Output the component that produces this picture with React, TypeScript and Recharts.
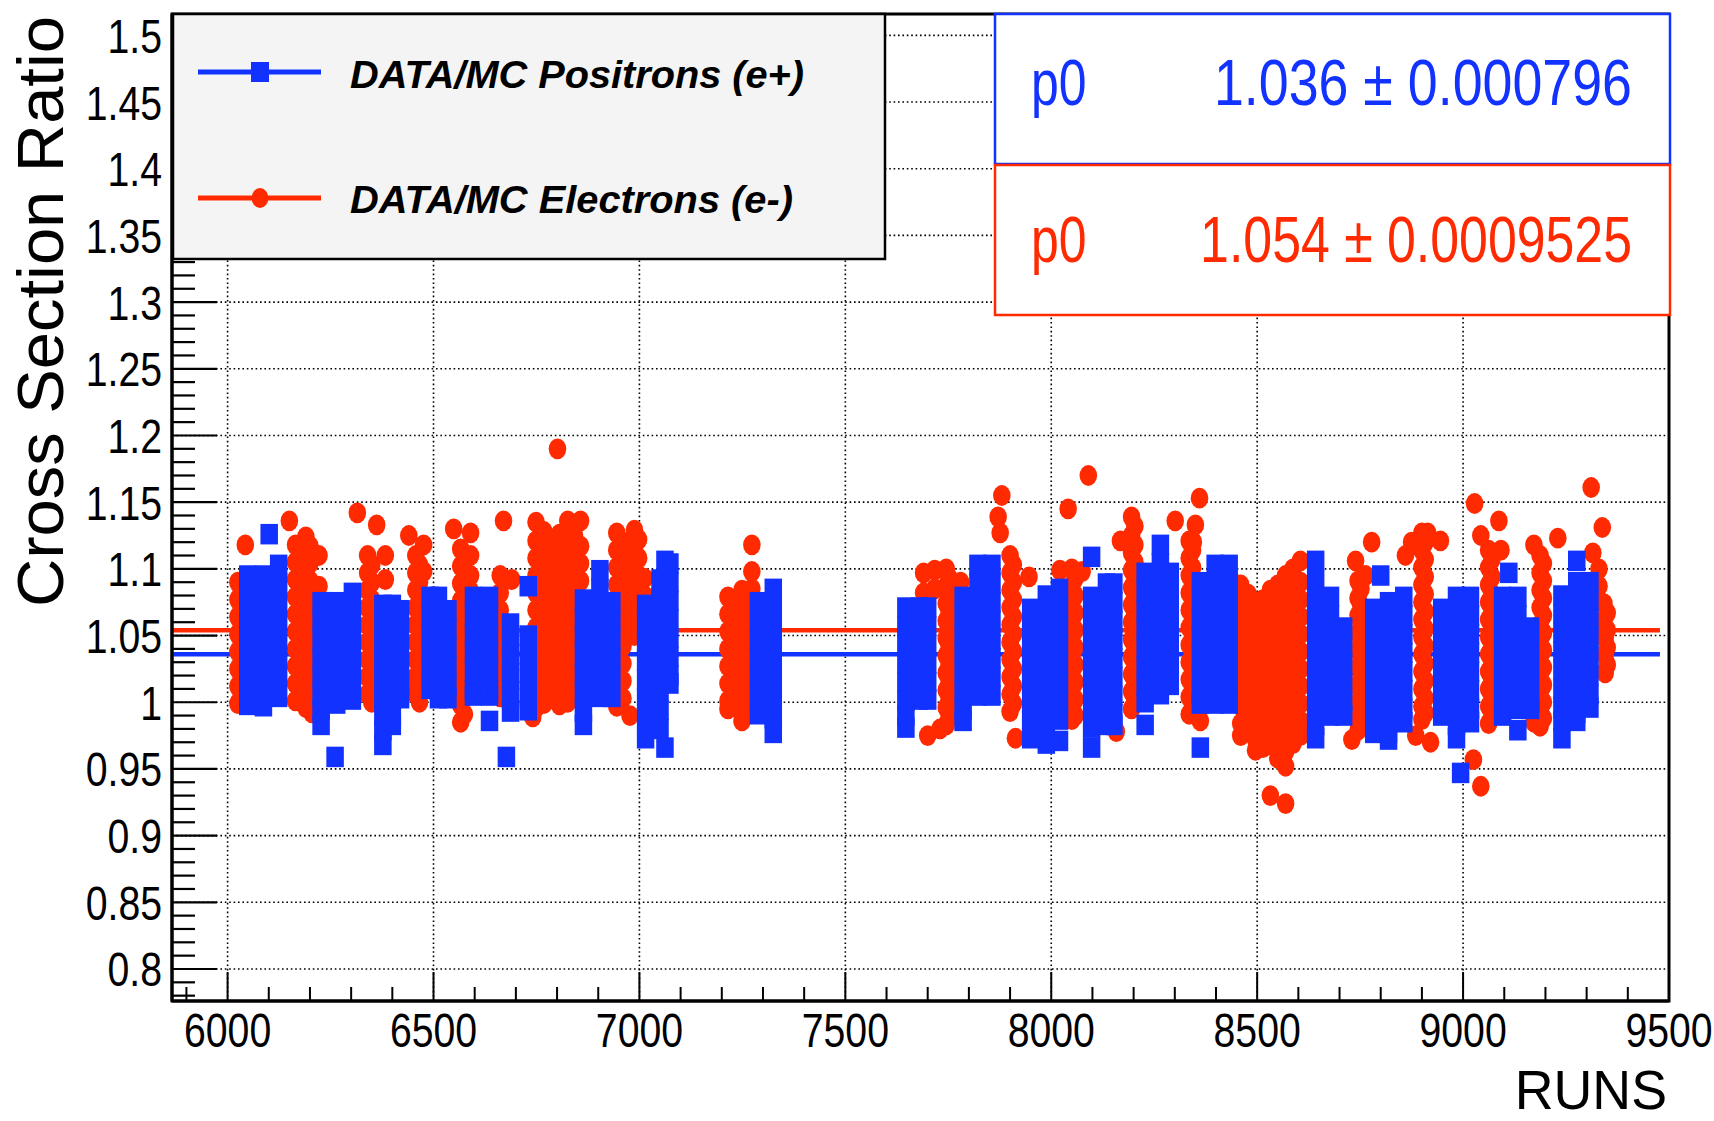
import { ScatterChart, Scatter, XAxis, YAxis, CartesianGrid, ReferenceLine } from 'recharts';

const BLUE = '#1232ff';
const RED = '#ff2a00';
const FONT = '"Liberation Sans", Arial, Helvetica, sans-serif';

// axis ticks
const xGridRuns = [6000, 6500, 7000, 7500, 8000, 8500, 9000];
const xTicks = Array.from({ length: 37 }, (_, i) => 5900 + i * 100);
const yGridRatios = [0.8, 0.85, 0.9, 0.95, 1, 1.05, 1.1, 1.15, 1.2, 1.25, 1.3, 1.35, 1.4, 1.45, 1.5];
const yTicks = Array.from({ length: 74 }, (_, i) => +(0.78 + i * 0.01).toFixed(2));

// fit results (p0)
const fitPositrons = 1.036;
const fitElectrons = 1.054;
const fitRange = [5868, 9478];

// DATA/MC positrons (e+): [run, ratios measured at that run]
const positronsA: [number, number[]][] = [
  [6049, [1.095, 1.081, 1.067, 1.053, 1.039, 1.025, 1.011, 0.998]],
  [6087, [1.095, 1.081, 1.067, 1.053, 1.039, 1.025, 1.011, 0.997]],
  [6101, [1.126]],
  [6124, [1.103, 1.089, 1.075, 1.061, 1.047, 1.033, 1.019, 1.004]],
  [6227, [1.075, 1.061, 1.047, 1.033, 1.019, 1.005, 0.994, 0.983]],
  [6261, [0.959]],
  [6265, [1.075, 1.061, 1.047, 1.033, 1.019, 1.005, 0.999]],
  [6303, [1.082, 1.068, 1.054, 1.04, 1.026, 1.012, 1.002]],
  [6377, [1.073, 1.059, 1.045, 1.031, 1.017, 1.003, 0.99, 0.979, 0.968]],
  [6400, [1.073, 1.059, 1.045, 1.031, 1.017, 1.003, 0.99, 0.983]],
  [6420, [1.069, 1.055, 1.041, 1.027, 1.013, 1.003]],
  [6492, [1.079, 1.065, 1.051, 1.037, 1.023, 1.01]],
  [6512, [1.079, 1.065, 1.051, 1.037, 1.023, 1.009, 1.003]],
  [6535, [1.069, 1.055, 1.041, 1.027, 1.013, 1.003]],
  [6597, [1.079, 1.065, 1.051, 1.037, 1.023, 1.009, 1.005]],
  [6636, [1.079, 1.065, 1.051, 1.037, 1.023, 1.009, 1.005, 0.986]],
  [6677, [0.959]],
  [6687, [1.059, 1.045, 1.031, 1.017, 1.003, 0.993]],
  [6730, [1.087, 1.05, 1.036, 1.022, 1.008, 0.994]],
  [6864, [1.077, 1.063, 1.049, 1.035, 1.021, 1.007, 0.993, 0.983]],
  [6904, [1.099, 1.085, 1.071, 1.057, 1.043, 1.029, 1.015, 1.004]],
  [6933, [1.075, 1.061, 1.047, 1.033, 1.019, 1.004]],
  [7015, [1.073, 1.059, 1.045, 1.031, 1.017, 1.003, 0.988, 0.973]],
  [7050, [1.092, 1.078, 1.064, 1.05, 1.036, 1.022, 1.008, 0.994, 0.98]],
  [7062, [1.106, 0.966]],
  [7074, [1.104, 1.09, 1.076, 1.062, 1.048, 1.034, 1.02, 1.014]],
  [7289, [1.075, 1.061, 1.047, 1.033, 1.019, 1.005, 0.991]],
  [7325, [1.085, 1.071, 1.057, 1.043, 1.029, 1.015, 1.001, 0.988, 0.977]],
];

const positronsB: [number, number[]][] = [
  [7647, [1.071, 1.057, 1.043, 1.029, 1.015, 1.001, 0.99, 0.981]],
  [7680, [1.071, 1.057, 1.043, 1.029, 1.015, 1.002]],
  [7700, [1.071, 1.057, 1.043, 1.029, 1.015, 1.002]],
  [7786, [1.079, 1.065, 1.051, 1.037, 1.023, 1.009, 0.995, 0.986]],
  [7822, [1.103, 1.089, 1.075, 1.061, 1.047, 1.033, 1.019, 1.005]],
  [7856, [1.103, 1.089, 1.075, 1.061, 1.047, 1.033, 1.019, 1.005]],
  [7950, [1.07, 1.056, 1.042, 1.028, 1.014, 1.0, 0.986, 0.973]],
  [7988, [1.08, 1.066, 1.052, 1.038, 1.024, 1.01, 0.996, 0.982, 0.969]],
  [8020, [1.085, 1.071, 1.057, 1.043, 1.029, 1.015, 1.001, 0.987, 0.971]],
  [8098, [1.109, 1.079, 1.065, 1.051, 1.037, 1.023, 1.009, 0.995, 0.981, 0.966]],
  [8134, [1.089, 1.075, 1.061, 1.047, 1.033, 1.019, 1.005, 0.991, 0.983]],
  [8152, [1.089, 1.075, 1.061, 1.047, 1.033, 1.019, 1.005, 0.991, 0.983]],
  [8228, [1.097, 1.083, 1.069, 1.055, 1.041, 1.027, 1.013, 1.0, 0.983]],
  [8265, [1.118, 1.104, 1.09, 1.076, 1.062, 1.048, 1.034, 1.02, 1.006]],
  [8289, [1.097, 1.083, 1.069, 1.055, 1.041, 1.027, 1.013]],
  [8362, [1.09, 1.076, 1.062, 1.048, 1.034, 1.02, 1.006, 0.999, 0.966]],
  [8398, [1.103, 1.089, 1.075, 1.061, 1.047, 1.033, 1.019, 1.005, 0.999]],
  [8432, [1.103, 1.089, 1.075, 1.061, 1.047, 1.033, 1.019, 1.005, 0.999]],
];

const positronsC: [number, number[]][] = [
  [8642, [1.106, 1.091, 1.077, 1.063, 1.049, 1.035, 1.021, 1.007, 0.993, 0.983, 0.973]],
  [8678, [1.079, 1.065, 1.051, 1.037, 1.023, 1.009, 0.995, 0.99]],
  [8710, [1.056, 1.042, 1.028, 1.014, 1.0, 0.99]],
  [8783, [1.07, 1.056, 1.042, 1.028, 1.014, 1.0, 0.986, 0.977]],
  [8800, [1.095]],
  [8819, [1.075, 1.061, 1.047, 1.033, 1.019, 1.005, 0.991, 0.977, 0.972]],
  [8856, [1.079, 1.065, 1.051, 1.037, 1.023, 1.009, 0.995, 0.985]],
  [8948, [1.07, 1.056, 1.042, 1.028, 1.014, 1.0, 0.99]],
  [8984, [1.079, 1.065, 1.051, 1.037, 1.023, 1.009, 0.995, 0.983, 0.973]],
  [8994, [0.947]],
  [9018, [1.079, 1.065, 1.051, 1.037, 1.023, 1.009, 0.995, 0.985]],
  [9096, [1.079, 1.065, 1.051, 1.037, 1.023, 1.009, 0.995, 0.99]],
  [9111, [1.097]],
  [9133, [1.079, 1.065, 1.051, 1.037, 1.023, 1.009, 0.995, 0.979]],
  [9164, [1.056, 1.042, 1.028, 1.014, 1.0, 0.995]],
  [9240, [1.08, 1.066, 1.052, 1.038, 1.024, 1.01, 0.996, 0.986, 0.973]],
  [9276, [1.106, 1.09, 1.076, 1.062, 1.048, 1.034, 1.02, 1.006, 0.992, 0.986]],
  [9308, [1.09, 1.076, 1.062, 1.048, 1.034, 1.02, 1.006, 0.996]],
];

// DATA/MC electrons (e-)
const electronsA: [number, number[]][] = [
  [6025, [1.09, 1.077, 1.064, 1.051, 1.038, 1.025, 1.012, 0.999]],
  [6033, [1.083, 1.07, 1.057, 1.044, 1.031, 1.018, 1.005]],
  [6043, [1.118]],
  [6150, [1.136]],
  [6165, [1.118, 1.105, 1.092, 1.079, 1.066, 1.053, 1.04, 1.027, 1.014, 1.001]],
  [6176, [1.111, 1.098, 1.085, 1.072, 1.059, 1.046, 1.033, 1.02, 1.007]],
  [6190, [1.124, 1.111, 1.098, 1.085, 1.072, 1.059, 1.046, 1.033, 1.02, 1.007, 0.996]],
  [6200, [1.117, 1.104, 1.091, 1.078, 1.065, 1.052, 1.039, 1.026, 1.013, 1.0]],
  [6205, [0.992]],
  [6222, [1.11, 1.087]],
  [6315, [1.142]],
  [6340, [1.11, 1.097, 1.084, 1.071, 1.058, 1.045, 1.032, 1.019, 1.006]],
  [6350, [1.103, 1.09, 1.077, 1.064, 1.051, 1.038, 1.025, 1.012, 1.0]],
  [6362, [1.133]],
  [6383, [1.11, 1.092]],
  [6440, [1.125]],
  [6450, [1.012]],
  [6457, [1.11, 1.097, 1.084, 1.071, 1.058, 1.045, 1.032, 1.019, 1.006]],
  [6466, [1.103, 1.09, 1.077, 1.064, 1.051, 1.038, 1.025, 1.012, 1.0]],
  [6476, [1.118, 1.098]],
  [6549, [1.13]],
  [6566, [1.115, 1.102, 1.089, 1.076, 1.063, 1.05, 1.037, 1.024, 1.011, 0.998, 0.985]],
  [6575, [1.108, 1.095, 1.082, 1.069, 1.056, 1.043, 1.03, 1.017, 1.004, 0.991]],
  [6590, [1.127, 1.11, 1.095, 1.083]],
  [6662, [1.095, 1.082, 1.069, 1.056, 1.043, 1.03, 1.017, 1.004]],
  [6670, [1.136]],
  [6690, [1.092]],
  [6741, [0.989]],
  [6749, [1.135, 1.121, 1.108, 1.095, 1.082, 1.069, 1.056, 1.043, 1.03, 1.017, 1.004, 0.996]],
  [6768, [1.128, 1.114, 1.101, 1.088, 1.075, 1.062, 1.049, 1.036, 1.023, 1.01, 0.999]],
  [6787, [1.12, 1.107, 1.094, 1.081, 1.068, 1.055, 1.042, 1.029, 1.016, 1.003]],
  [6801, [1.19]],
  [6806, [1.126, 1.113, 1.1, 1.087, 1.074, 1.061, 1.048, 1.035, 1.022, 1.009, 0.998]],
  [6826, [1.136, 1.118, 1.105, 1.092, 1.079, 1.066, 1.053, 1.04, 1.027, 1.014, 1.0]],
  [6842, [1.125, 1.111, 1.098, 1.085, 1.072, 1.059, 1.046, 1.033, 1.02, 1.007]],
  [6857, [1.136, 1.117, 1.104, 1.091, 1.078, 1.065, 1.052, 1.039, 1.026, 1.013]],
  [6945, [1.127, 1.114, 1.101, 1.088, 1.075, 1.062, 1.049, 1.036, 1.023, 1.01, 0.997]],
  [6960, [1.12, 1.107, 1.094, 1.081, 1.068, 1.055, 1.042, 1.029, 1.016, 1.003]],
  [6977, [0.99]],
  [6988, [1.129, 1.115, 1.102, 1.089, 1.076, 1.063, 1.05]],
  [6998, [1.122, 1.108, 1.095, 1.082, 1.069, 1.056]],
  [7012, [1.093, 1.08]],
  [7215, [1.079, 1.066, 1.053, 1.04, 1.027, 1.014, 1.001, 0.995]],
  [7230, [1.073, 1.06, 1.047, 1.034, 1.021, 1.008, 0.997]],
  [7249, [1.084, 1.071, 1.058, 1.045, 1.032, 1.019, 1.006, 0.993, 0.986]],
  [7260, [1.077, 1.064, 1.051, 1.038, 1.025, 1.012, 0.999]],
  [7273, [1.118, 1.098, 1.085, 1.072, 1.059, 1.046]],
];

const electronsB: [number, number[]][] = [
  [7690, [1.097, 1.082]],
  [7700, [0.975]],
  [7717, [1.099, 1.085]],
  [7730, [0.98]],
  [7745, [1.1, 1.087, 1.074, 1.061, 1.048, 1.035, 1.022, 1.009, 0.996, 0.983]],
  [7752, [1.093, 1.08, 1.067, 1.054, 1.041, 1.028, 1.015, 1.002, 0.989]],
  [7780, [1.09]],
  [7871, [1.139]],
  [7876, [1.127]],
  [7880, [1.155]],
  [7900, [1.11, 1.097, 1.084, 1.071, 1.058, 1.045, 1.032, 1.019, 1.006, 0.993]],
  [7908, [1.103, 1.09, 1.077, 1.064, 1.051, 1.038, 1.025, 1.012, 0.999]],
  [7913, [0.973]],
  [7946, [1.094]],
  [8021, [1.099]],
  [8041, [1.145]],
  [8050, [1.1, 1.087, 1.074, 1.061, 1.048, 1.035, 1.022, 1.009, 0.996, 0.987]],
  [8058, [1.093, 1.08, 1.067, 1.054, 1.041, 1.028, 1.015, 1.002, 0.99]],
  [8075, [1.098]],
  [8090, [1.17]],
  [8158, [0.978]],
  [8168, [1.121]],
  [8195, [1.139, 1.125, 1.112, 1.099, 1.086, 1.073, 1.06, 1.047, 1.034, 1.021, 1.008, 0.995]],
  [8203, [1.132, 1.118, 1.105, 1.092, 1.079, 1.066, 1.053, 1.04, 1.027, 1.014, 1.001]],
  [8301, [1.136]],
  [8335, [1.121, 1.108, 1.095, 1.082, 1.069, 1.056, 1.043, 1.03, 1.017, 1.004, 0.991]],
  [8343, [1.114, 1.101, 1.088, 1.075, 1.062, 1.049, 1.036, 1.023, 1.01, 0.997]],
  [8345, [1.12]],
  [8350, [1.133]],
  [8360, [1.153]],
  [8362, [0.986]],
  [8440, [1.09]],
  [8460, [1.088, 1.075, 1.062, 1.049, 1.036, 1.023, 1.01, 0.997, 0.984, 0.975]],
  [8478, [1.081, 1.068, 1.055, 1.042, 1.029, 1.016, 1.003, 0.99, 0.978]],
  [8496, [1.075, 1.062, 1.049, 1.036, 1.023, 1.01, 0.997, 0.984, 0.972, 0.964]],
  [8514, [1.077, 1.064, 1.051, 1.038, 1.025, 1.012, 0.999, 0.986, 0.974, 0.966]],
  [8532, [1.084, 1.07, 1.057, 1.044, 1.031, 1.018, 1.005, 0.992, 0.979, 0.968, 0.93]],
  [8550, [1.088, 1.074, 1.061, 1.048, 1.035, 1.022, 1.009, 0.996, 0.983, 0.972, 0.958]],
  [8569, [1.095, 1.08, 1.067, 1.054, 1.041, 1.028, 1.015, 1.002, 0.989, 0.976, 0.963, 0.952, 0.924]],
  [8587, [1.1, 1.085, 1.072, 1.059, 1.046, 1.033, 1.02, 1.007, 0.994, 0.981, 0.969]],
  [8605, [1.106, 1.09, 1.077, 1.064, 1.051, 1.038, 1.025, 1.012, 0.999, 0.986, 0.975]],
];

const electronsC: [number, number[]][] = [
  [8730, [0.972]],
  [8739, [1.106]],
  [8745, [1.091, 1.078, 1.065, 1.052, 1.039, 1.026, 1.013, 1.0, 0.987, 0.979]],
  [8752, [1.085, 1.072, 1.059, 1.046, 1.033, 1.02, 1.007, 0.994, 0.983]],
  [8763, [1.095]],
  [8778, [1.12]],
  [8860, [1.11]],
  [8875, [1.12]],
  [8885, [0.975]],
  [8900, [1.127, 1.114, 1.101, 1.088, 1.075, 1.062, 1.049, 1.036, 1.023, 1.01, 0.997, 0.987]],
  [8908, [1.12, 1.107, 1.094, 1.081, 1.068, 1.055, 1.042, 1.029, 1.016, 1.003, 0.992]],
  [8914, [1.127]],
  [8921, [0.97]],
  [8945, [1.121]],
  [9025, [0.957]],
  [9028, [1.149]],
  [9043, [1.125, 0.937]],
  [9062, [1.114, 1.101, 1.088, 1.075, 1.062, 1.049, 1.036, 1.023, 1.01, 0.997, 0.984]],
  [9070, [1.107, 1.094, 1.081, 1.068, 1.055, 1.042, 1.029, 1.016, 1.003, 0.99]],
  [9087, [1.136]],
  [9092, [1.114]],
  [9172, [1.118, 0.985]],
  [9187, [1.11, 1.097, 1.084, 1.071, 1.058, 1.045, 1.032, 1.019, 1.006, 0.993, 0.982]],
  [9195, [1.104, 1.091, 1.078, 1.065, 1.052, 1.039, 1.026, 1.013, 1.0, 0.988]],
  [9230, [1.123]],
  [9311, [1.161]],
  [9315, [1.112]],
  [9330, [1.1, 1.087]],
  [9338, [1.131]],
  [9342, [1.074, 1.061]],
  [9345, [1.048, 1.035, 1.022]],
  [9350, [1.067, 1.054, 1.041, 1.028]],
];

const toPoints = (cols: [number, number[]][]) =>
  cols.flatMap(([run, ratios]) => ratios.map((ratio) => ({ run, ratio })));

const positrons = toPoints([...positronsA, ...positronsB, ...positronsC]);
const electrons = toPoints([...electronsA, ...electronsB, ...electronsC]);

const SquareMarker = (p: any) => (
  <rect x={p.cx - 8.75} y={p.cy - 10.25} width={17.5} height={20.5} fill={BLUE} />
);
const CircleMarker = (p: any) => <ellipse cx={p.cx} cy={p.cy} rx={8.8} ry={10.4} fill={RED} />;

const XTick = (props: any) => {
  const { x, y, payload } = props;
  const v = payload.value;
  const major = v % 500 === 0;
  return (
    <g>
      <line x1={x} x2={x} y1={y} y2={y - (major ? 29 : 14)} stroke="#000" strokeWidth={2} />
      {major && (
        <text transform={`translate(${x},${y + 46}) scale(0.8,1)`} textAnchor="middle" fontSize={49} fontFamily={FONT} fill="#000">
          {v}
        </text>
      )}
    </g>
  );
};

const YTick = (props: any) => {
  const { x, y, payload } = props;
  const v = payload.value;
  const major = Math.round(v * 100) % 5 === 0;
  return (
    <g>
      <line x1={x} x2={x + (major ? 45 : 23)} y1={y} y2={y} stroke="#000" strokeWidth={2.2} />
      {major && (
        <text transform={`translate(${x - 10},${y + 17.5}) scale(0.8,1)`} textAnchor="end" fontSize={49} fontFamily={FONT} fill="#000">
          {String(v)}
        </text>
      )}
    </g>
  );
};

export default function App() {
  return (
    <div style={{ position: 'absolute', left: 0, top: 0, width: 1714, height: 1121, background: '#fff' }}>
      <ScatterChart width={1714} height={1121} margin={{ top: 14, right: 45, bottom: 0, left: 0 }}>
        <CartesianGrid
          stroke="#000"
          strokeWidth={1.6}
          strokeDasharray="1.6 2.8"
          horizontalValues={yGridRatios}
          verticalValues={xGridRuns}
        />
        <XAxis
          type="number"
          dataKey="run"
          domain={[5865, 9500]}
          allowDataOverflow
          ticks={xTicks}
          interval={0}
          height={120}
          tickSize={0}
          tickMargin={0}
          tickLine={false}
          tick={<XTick />}
          axisLine={{ stroke: '#000', strokeWidth: 3 }}
        />
        <YAxis
          type="number"
          dataKey="ratio"
          domain={[0.776, 1.516]}
          allowDataOverflow
          ticks={yTicks}
          interval={0}
          width={172}
          tickSize={0}
          tickMargin={0}
          tickLine={false}
          tick={<YTick />}
          axisLine={{ stroke: '#000', strokeWidth: 3 }}
        />
        <Scatter data={electrons} fill={RED} shape={CircleMarker} isAnimationActive={false} />
        <Scatter data={positrons} fill={BLUE} shape={SquareMarker} isAnimationActive={false} />
        <ReferenceLine
          segment={[{ x: fitRange[0], y: fitElectrons }, { x: fitRange[1], y: fitElectrons }]}
          stroke={RED}
          strokeWidth={4.5}
        />
        <ReferenceLine
          segment={[{ x: fitRange[0], y: fitPositrons }, { x: fitRange[1], y: fitPositrons }]}
          stroke={BLUE}
          strokeWidth={4.5}
        />
      </ScatterChart>

      <svg
        width={1714}
        height={1121}
        style={{ position: 'absolute', left: 0, top: 0, pointerEvents: 'none' }}
        fontFamily={FONT}
      >
        <rect x={172} y={14} width={1497} height={987} fill="none" stroke="#000" strokeWidth={3} />

        {/* legend */}
        <rect x={173} y={14} width={712} height={245} fill="#f4f4f4" stroke="#000" strokeWidth={2.5} />
        <line x1={198} x2={321} y1={72} y2={72} stroke={BLUE} strokeWidth={5} />
        <rect x={251} y={62} width={18} height={20} fill={BLUE} />
        <text x={350} y={88} fontSize={38} fontWeight="bold" fontStyle="italic" textLength={454} lengthAdjust="spacingAndGlyphs">
          DATA/MC Positrons (e+)
        </text>
        <line x1={198} x2={321} y1={198} y2={198} stroke={RED} strokeWidth={5} />
        <ellipse cx={260} cy={198} rx={8.4} ry={10} fill={RED} />
        <text x={350} y={213} fontSize={38} fontWeight="bold" fontStyle="italic" textLength={443} lengthAdjust="spacingAndGlyphs">
          DATA/MC Electrons (e-)
        </text>

        {/* fit stats */}
        <rect x={995} y={14} width={675} height={150} fill="#fff" stroke={BLUE} strokeWidth={2.5} />
        <text transform="translate(1031,105) scale(0.78,1)" fontSize={64} fill={BLUE}>p0</text>
        <text transform="translate(1632,105) scale(0.84,1)" textAnchor="end" fontSize={64} fill={BLUE}>
          1.036 ± 0.000796
        </text>
        <rect x={995} y={165} width={675} height={150} fill="#fff" stroke={RED} strokeWidth={2.5} />
        <text transform="translate(1031,262) scale(0.78,1)" fontSize={64} fill={RED}>p0</text>
        <text transform="translate(1632,262) scale(0.81,1)" textAnchor="end" fontSize={64} fill={RED}>
          1.054 ± 0.0009525
        </text>

        {/* axis titles */}
        <text transform="translate(1667,1109) scale(0.96,1)" textAnchor="end" fontSize={56}>RUNS</text>
        <text transform="translate(63,16) rotate(-90)" textAnchor="end" fontSize={64} textLength={591} lengthAdjust="spacingAndGlyphs">
          Cross Section Ratio
        </text>
      </svg>
    </div>
  );
}
